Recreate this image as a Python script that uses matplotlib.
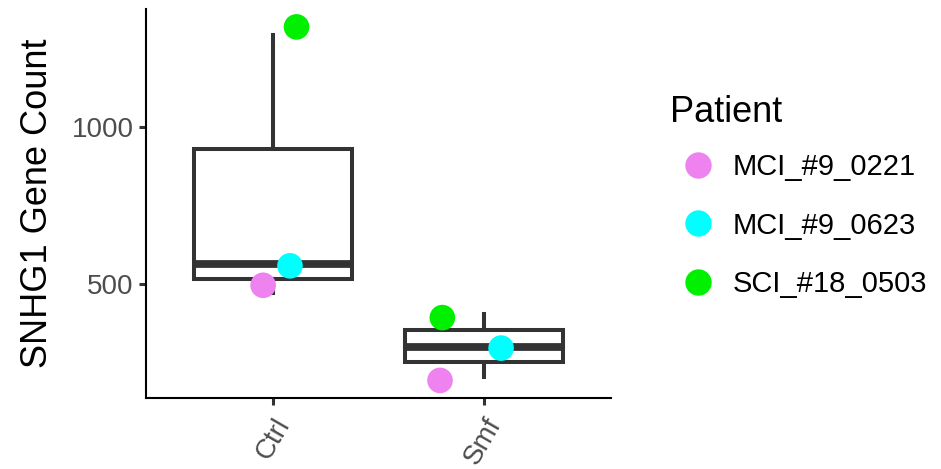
import matplotlib
matplotlib.use('Agg')
import matplotlib.pyplot as plt
from matplotlib.lines import Line2D
import numpy as np

plt.rcParams['font.family'] = ['Liberation Sans', 'DejaVu Sans']

groups = ['Ctrl', 'Smf']
patients = ['MCI_#9_0221', 'MCI_#9_0623', 'SCI_#18_0503']
colors = ['#EE82EE', '#00FFFF', '#00F000']

# counts per patient in each group (box statistics)
ctrl_counts = [471, 565, 1295]
smf_counts = [206, 302, 404]

# jittered points as drawn
ctrl_jit_y = [497, 559, 1320]
smf_jit_y = [194, 297, 394]
ctrl_jit_dx = [-0.046, 0.081, 0.112]
smf_jit_dx = [-0.209, 0.080, -0.198]

box_col = '#333333'

fig = plt.figure(figsize=(9.41, 4.69), dpi=100)
ax = fig.add_axes([0.1552, 0.1514, 0.4941, 0.8294])

ax.boxplot([ctrl_counts, smf_counts], positions=[1, 2], widths=0.75,
           showcaps=False, showfliers=False, patch_artist=True,
           boxprops=dict(facecolor='white', edgecolor=box_col, linewidth=2.9),
           whiskerprops=dict(color=box_col, linewidth=2.9),
           medianprops=dict(color=box_col, linewidth=5.6, solid_capstyle='butt'),
           zorder=2)

for i, (ys, dxs) in enumerate([(ctrl_jit_y, ctrl_jit_dx), (smf_jit_y, smf_jit_dx)]):
    xs = [i + 1 + d for d in dxs]
    ax.scatter(xs, ys, s=340, c=colors, edgecolors='none', zorder=3)

ax.set_xlim(0.4, 2.6)
ax.set_ylim(138, 1377)
ax.set_yticks([500, 1000])
ax.set_xticks([1, 2])
ax.set_xticklabels(groups, rotation=60, ha='right', va='top', rotation_mode='anchor')

for s in ['top', 'right']:
    ax.spines[s].set_visible(False)
for s in ['left', 'bottom']:
    ax.spines[s].set_linewidth(1.5)
    ax.spines[s].set_color('black')

ax.tick_params(axis='both', length=5, width=2.2, color='#333333',
               labelsize=20, labelcolor='#4D4D4D', pad=4)
ax.tick_params(axis='x', pad=6)
ax.set_ylabel('SNHG1 Gene Count', fontsize=26, color='black', labelpad=12)

# legend: title as its own text so the gap matches
fig.text(670 / 941, 1 - 113 / 469, 'Patient', fontsize=26, ha='left', va='center')
handles = [Line2D([], [], marker='o', linestyle='none', markersize=19,
                  markerfacecolor=c, markeredgecolor='none') for c in colors]
leg = fig.legend(handles, patients, loc='upper left',
                 bbox_to_anchor=(0.7075, 0.705), frameon=False, fontsize=21,
                 handletextpad=0.6, labelspacing=1.05, borderpad=0,
                 handlelength=1.2)

fig.savefig('out.png', dpi=100)
